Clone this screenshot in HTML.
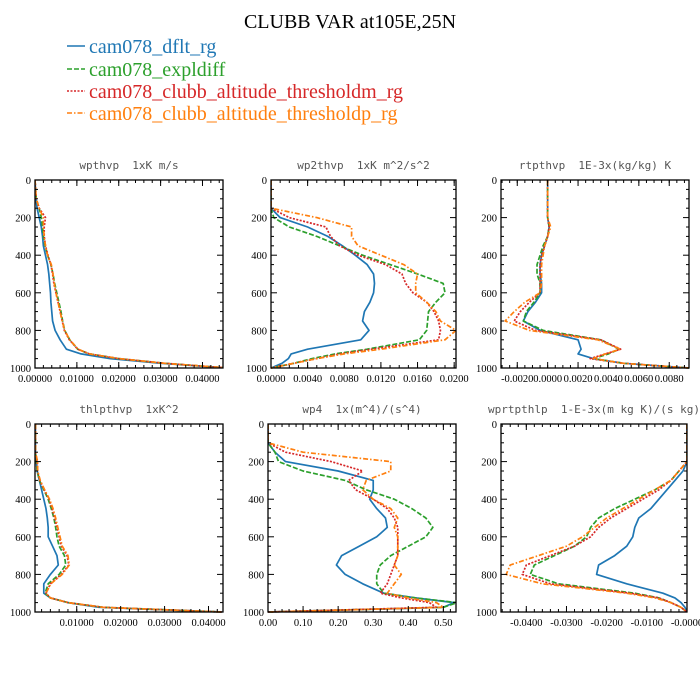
<!DOCTYPE html>
<html><head><meta charset="utf-8"><style>
body{margin:0;background:#fff;}
svg{display:block;}
.tt{font-family:"Liberation Serif",serif;}
.pt{font-family:"DejaVu Sans Mono","Liberation Mono",monospace;font-size:11px;fill:#555;white-space:pre;}
.tk{font-family:"Liberation Serif",serif;font-size:10.5px;fill:#000;}
</style></head><body>
<svg id="chart" width="700" height="700" viewBox="0 0 700 700">
<text class="tt" x="350" y="28" text-anchor="middle" font-size="20">CLUBB VAR at105E,25N</text>
<g>
 <g><line x1="67" y1="46" x2="85" y2="46" stroke="#1f77b4" stroke-width="1.5"/><text class="tt" x="89" y="53" font-size="20" fill="#1f77b4">cam078_dflt_rg</text></g>
 <g><line x1="67" y1="69" x2="85" y2="69" stroke="#2ca02c" stroke-width="1.5" stroke-dasharray="5,2"/><text class="tt" x="89" y="76" font-size="20" fill="#2ca02c">cam078_expldiff</text></g>
 <g><line x1="67" y1="91" x2="85" y2="91" stroke="#d62728" stroke-width="1.5" stroke-dasharray="2,1.5"/><text class="tt" x="89" y="98" font-size="20" fill="#d62728">cam078_clubb_altitude_thresholdm_rg</text></g>
 <g><line x1="67" y1="113" x2="85" y2="113" stroke="#ff7f0e" stroke-width="1.5" stroke-dasharray="5,2,1.5,2"/><text class="tt" x="89" y="120" font-size="20" fill="#ff7f0e">cam078_clubb_altitude_thresholdp_rg</text></g>
</g>
</svg>
<script>
// shared pressure levels
const levels=[0,100,150,200,250,300,350,400,450,500,550,600,650,700,750,800,850,900,925,950,975,1000];
const yTicks=[0,200,400,600,800,1000];
const seriesNames=["dflt","expldiff","thresholdm","thresholdp"];

const p1Blue=[0,0.0002,0.0005,0.001,0.0015,0.0018,0.002,0.0025,0.003,0.0033,0.0035,0.0037,0.0038,0.004,0.0042,0.0048,0.006,0.0075,0.011,0.018,0.03,0.046];
const p1Green=[0,0.0003,0.001,0.0015,0.0018,0.002,0.0024,0.003,0.0038,0.0043,0.0047,0.0052,0.0057,0.0062,0.0066,0.0071,0.0083,0.0102,0.013,0.02,0.031,0.046];
const p1Red=[0,0.0003,0.001,0.0025,0.0022,0.0022,0.0025,0.0031,0.0038,0.0042,0.0045,0.005,0.0055,0.006,0.0065,0.007,0.0082,0.0102,0.013,0.02,0.031,0.046];
const p1Orange=[0,0.0003,0.001,0.002,0.002,0.0022,0.0025,0.003,0.0039,0.0043,0.0046,0.005,0.0055,0.006,0.0065,0.0071,0.0083,0.0103,0.013,0.02,0.031,0.046];
const p1Ticks=["0.00000","0.01000","0.02000","0.03000","0.04000"];
const p1TickVals=[0,0.01,0.02,0.03,0.04];

const p2Blue=[0,0,0,0.001,0.004,0.0062,0.0078,0.0092,0.0105,0.0112,0.0113,0.0112,0.0108,0.0102,0.01,0.0107,0.0098,0.004,0.0022,0.0019,0.0012,0];
const p2Green=[0,0,0,0.0003,0.002,0.005,0.0075,0.01,0.013,0.016,0.0188,0.019,0.018,0.0172,0.0171,0.017,0.0162,0.0105,0.007,0.0045,0.0025,0];
const p2Red=[0,0,0,0.002,0.006,0.0065,0.0075,0.0095,0.0125,0.0143,0.0147,0.0155,0.017,0.0178,0.0183,0.0185,0.0183,0.011,0.0075,0.005,0.0025,0];
const p2Orange=[0,0,0,0.005,0.0088,0.0088,0.0095,0.012,0.0145,0.016,0.0158,0.0158,0.017,0.018,0.0185,0.0202,0.019,0.012,0.008,0.005,0.0025,0];
const p2Ticks=["0.0000","0.0040","0.0080","0.0120","0.0160","0.0200"];
const p2TickVals=[0,0.004,0.008,0.012,0.016,0.02];

const p3Blue=[0,0,0,0,0.0001,0,-0.0002,-0.0004,-0.0005,-0.0005,-0.0004,-0.0004,-0.0008,-0.0013,-0.0016,-0.0005,0.002,0.0022,0.002,0.003,0.005,0.0093];
const p3Green=[0,0,0,0,0.0001,0,-0.0003,-0.0005,-0.0007,-0.0007,-0.0005,-0.0005,-0.0009,-0.0014,-0.0016,-0.0003,0.0035,0.0047,0.004,0.003,0.005,0.0093];
const p3Red=[0,0,0,0,0.0001,0,-0.0002,-0.0004,-0.0005,-0.0005,-0.0005,-0.0005,-0.0012,-0.0018,-0.0022,-0.0008,0.0035,0.0048,0.0038,0.0028,0.005,0.0093];
const p3Orange=[0,0,0,0,0.0002,0,-0.0002,-0.0003,-0.0004,-0.0004,-0.0004,-0.0005,-0.0015,-0.0022,-0.0028,-0.0012,0.0033,0.0048,0.0038,0.003,0.005,0.0093];
const p3Ticks=["-0.0020","0.0000","0.0020","0.0040","0.0060","0.0080"];
const p3TickVals=[-0.002,0,0.002,0.004,0.006,0.008];

const p4Blue=[0.0006,0.0006,0.0006,0.0008,0.001,0.0015,0.002,0.0025,0.003,0.0033,0.0035,0.0035,0.0045,0.0055,0.0058,0.004,0.0025,0.0025,0.004,0.008,0.015,0.043];
const p4Green=[0.0006,0.0006,0.0006,0.0008,0.001,0.0015,0.0025,0.0035,0.0042,0.0048,0.0052,0.0055,0.006,0.0072,0.0075,0.006,0.0035,0.0028,0.004,0.008,0.016,0.043];
const p4Red=[0.0006,0.0006,0.0006,0.001,0.0011,0.0016,0.0026,0.0037,0.0044,0.005,0.0055,0.006,0.0065,0.0078,0.0082,0.0065,0.004,0.003,0.004,0.008,0.016,0.043];
const p4Orange=[0.0006,0.0006,0.0006,0.0011,0.0011,0.0017,0.0027,0.0038,0.0046,0.0052,0.0057,0.0062,0.0067,0.008,0.0083,0.0067,0.0041,0.003,0.004,0.008,0.016,0.043];
const p4Ticks=["0.01000","0.02000","0.03000","0.04000"];
const p4TickVals=[0.01,0.02,0.03,0.04];

const p5Blue=[0,0,0.02,0.05,0.2,0.3,0.3,0.29,0.31,0.335,0.34,0.31,0.26,0.21,0.195,0.22,0.27,0.33,0.42,0.53,0.5,0];
const p5Green=[0,0,0.02,0.03,0.1,0.22,0.28,0.36,0.41,0.45,0.47,0.45,0.4,0.35,0.32,0.31,0.31,0.33,0.42,0.54,0.5,0];
const p5Red=[0,0,0.05,0.18,0.27,0.23,0.25,0.3,0.34,0.36,0.37,0.37,0.37,0.37,0.36,0.35,0.34,0.32,0.38,0.46,0.48,0];
const p5Orange=[0,0,0.1,0.35,0.35,0.28,0.27,0.3,0.35,0.37,0.36,0.37,0.37,0.37,0.36,0.38,0.36,0.34,0.4,0.48,0.5,0];
const p5Ticks=["0.00","0.10","0.20","0.30","0.40","0.50"];
const p5TickVals=[0,0.1,0.2,0.3,0.4,0.5];

const p6Blue=[0,0,0,0,-0.001,-0.003,-0.005,-0.007,-0.009,-0.012,-0.013,-0.0135,-0.015,-0.018,-0.022,-0.0225,-0.015,-0.006,-0.003,-0.0015,-0.0005,0];
const p6Green=[0,0,0,0,-0.002,-0.004,-0.008,-0.013,-0.018,-0.022,-0.024,-0.025,-0.028,-0.033,-0.038,-0.039,-0.032,-0.013,-0.007,-0.004,-0.0015,0];
const p6Red=[0,0,0,0,-0.002,-0.004,-0.007,-0.011,-0.015,-0.019,-0.022,-0.024,-0.028,-0.034,-0.04,-0.041,-0.034,-0.014,-0.007,-0.004,-0.0015,0];
const p6Orange=[0,0,0,0,-0.002,-0.004,-0.008,-0.012,-0.016,-0.02,-0.023,-0.026,-0.03,-0.037,-0.044,-0.045,-0.036,-0.015,-0.008,-0.004,-0.0015,0];
const p6Ticks=["-0.0400","-0.0300","-0.0200","-0.0100","-0.0000"];
const p6TickVals=[-0.04,-0.03,-0.02,-0.01,0];

const NS="http://www.w3.org/2000/svg";
const svg=document.getElementById('chart');
const colors=["#1f77b4","#2ca02c","#d62728","#ff7f0e"];
const dashes=["","5,2","2,1.5","5,2,1.5,2"];
function mk(tag,attrs,parent){const e=document.createElementNS(NS,tag);for(const k in attrs)e.setAttribute(k,attrs[k]);parent.appendChild(e);return e;}
const defs=mk('defs',{},svg);

const panels=[
 {id:"wpthvp",title:"wpthvp  1xK m/s",x0:35,x1:223,y0:180,y1:368,xmin:0,xmax:0.0449,minor:0.002,s:[p1Blue,p1Green,p1Red,p1Orange],tl:p1Ticks,tv:p1TickVals},
 {id:"wp2thvp",title:"wp2thvp  1xK m^2/s^2",x0:271,x1:456,y0:180,y1:368,xmin:0,xmax:0.0202,minor:0.001,s:[p2Blue,p2Green,p2Red,p2Orange],tl:p2Ticks,tv:p2TickVals},
 {id:"rtpthvp",title:"rtpthvp  1E-3x(kg/kg) K",x0:501,x1:689,y0:180,y1:368,xmin:-0.00307,xmax:0.0093,minor:0.0005,s:[p3Blue,p3Green,p3Red,p3Orange],tl:p3Ticks,tv:p3TickVals},
 {id:"thlpthvp",title:"thlpthvp  1xK^2",x0:35,x1:223,y0:424,y1:612,xmin:0.0005,xmax:0.0433,minor:0.002,s:[p4Blue,p4Green,p4Red,p4Orange],tl:p4Ticks,tv:p4TickVals},
 {id:"wp4",title:"wp4  1x(m^4)/(s^4)",x0:268,x1:456,y0:424,y1:612,xmin:0,xmax:0.536,minor:0.02,s:[p5Blue,p5Green,p5Red,p5Orange],tl:p5Ticks,tv:p5TickVals},
 {id:"wprtpthlp",title:"wprtpthlp  1-E-3x(m kg K)/(s kg)",x0:501,x1:687,y0:424,y1:612,xmin:-0.0463,xmax:0,minor:0.002,s:[p6Blue,p6Green,p6Red,p6Orange],tl:p6Ticks,tv:p6TickVals}
];

panels.forEach((p,pi)=>{
 const g=mk('g',{},svg);
 
 
 const X=v=>p.x0+(v-p.xmin)/(p.xmax-p.xmin)*(p.x1-p.x0);
 const Y=v=>p.y0+v/1000*(p.y1-p.y0);
 const cp=mk('clipPath',{id:'clip'+pi},defs);
 mk('rect',{x:p.x0,y:p.y0-2,width:p.x1-p.x0,height:p.y1-p.y0+4},cp);
 const t=mk('text',{class:'pt',x:(p.x0+p.x1)/2,y:p.y0-11,'text-anchor':'middle'},g);
 t.textContent=p.title;
 
 
 const sg=mk('g',{'clip-path':'url(#clip'+pi+')'},g);
 p.s.forEach((arr,i)=>{
  const pts=arr.map((v,j)=>X(v).toFixed(2)+','+Y(levels[j]).toFixed(2)).join(' ');
  const pl=mk('polyline',{points:pts,fill:'none',stroke:colors[i],'stroke-width':1.7,'stroke-linejoin':'round'},sg);
  if(dashes[i])pl.setAttribute('stroke-dasharray',dashes[i]);
  
  
 });
 const fr=mk('rect',{x:p.x0,y:p.y0,width:p.x1-p.x0,height:p.y1-p.y0,fill:'none',stroke:'#000','stroke-width':1.3},g);
 
 
 for(let v=0;v<=1000;v+=50){
  const y=Y(v),L=(v%200===0)?6:3;
  mk('line',{x1:p.x0,y1:y,x2:p.x0+L,y2:y,stroke:'#000','stroke-width':1},g);
  mk('line',{x1:p.x1,y1:y,x2:p.x1-L,y2:y,stroke:'#000','stroke-width':1},g);
 }
 yTicks.forEach(v=>{
  const tx=mk('text',{class:'tk',x:p.x0-4,y:Y(v)+4,'text-anchor':'end'},g);
  tx.textContent=String(v);
  
  
 });
 const start=Math.ceil(p.xmin/p.minor-1e-6);
 for(let k=start;k*p.minor<=p.xmax+1e-9;k++){
  const x=X(k*p.minor);
  mk('line',{x1:x,y1:p.y1,x2:x,y2:p.y1-3,stroke:'#000','stroke-width':1},g);
  mk('line',{x1:x,y1:p.y0,x2:x,y2:p.y0+3,stroke:'#000','stroke-width':1},g);
 }
 p.tv.forEach((v,i)=>{
  const x=X(v);
  mk('line',{x1:x,y1:p.y1,x2:x,y2:p.y1-6,stroke:'#000','stroke-width':1},g);
  mk('line',{x1:x,y1:p.y0,x2:x,y2:p.y0+6,stroke:'#000','stroke-width':1},g);
  const tx=mk('text',{class:'tk',x:x,y:p.y1+14,'text-anchor':'middle'},g);
  tx.textContent=p.tl[i];
  
  
 });
});
</script>
</body></html>
